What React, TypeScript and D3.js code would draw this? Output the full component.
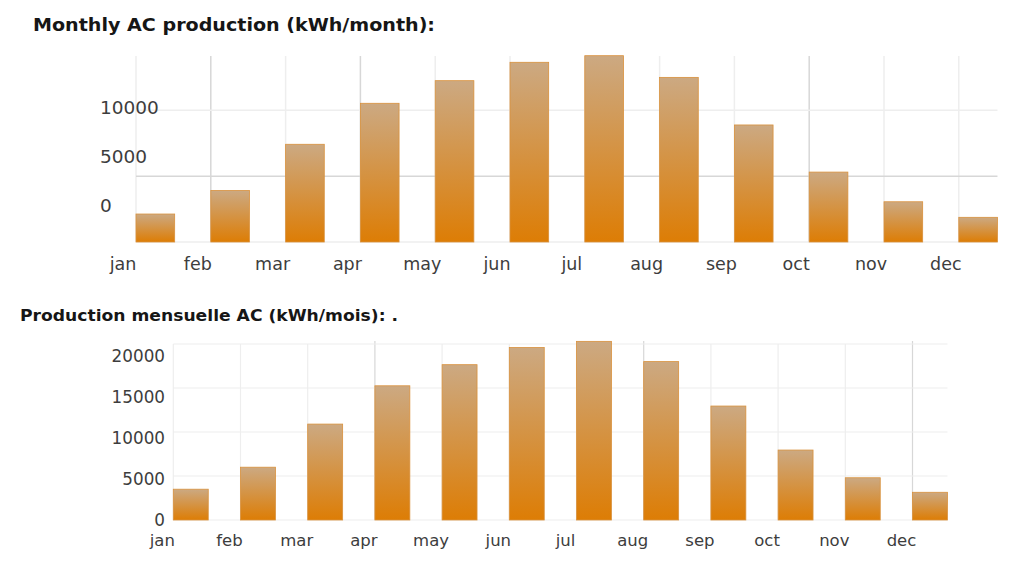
import React from "react";
import * as d3 from "d3";

const months = ["jan", "feb", "mar", "apr", "may", "jun", "jul", "aug", "sep", "oct", "nov", "dec"];

// kWh per month
const acProduction = [3500, 6000, 10900, 15250, 17650, 19600, 20300, 18000, 12950, 7950, 4800, 3150];

// top chart: labels as printed, gridlines where they sit
const topTickLabels = [0, 5000, 10000];
const topGridValues = [7500, 14500];
const topDarkMonths = ["feb", "apr", "oct"];

// bottom chart
const bottomTicks = [0, 5000, 10000, 15000, 20000];
const bottomDarkMonths = ["apr", "aug", "dec"];

const FONT = "'DejaVu Sans', Verdana, sans-serif";
const LIGHT = "#eeeeee";
const DARK = "#d7d7d7";
const LABEL = "#3d3d3d";

export default function App() {
  // ---- top chart (English) ----
  const top = { left: 136, top: 56, bottom: 242, step: 74.8 };
  const xTop = d3
    .scaleBand<string>()
    .domain(months)
    .range([top.left, top.left + months.length * top.step])
    .padding(0);
  const barWTop = top.step * 0.517;
  const topRight = xTop("dec")! + barWTop;
  const yTop = d3.scaleLinear().domain([0, 20300]).range([top.bottom + 5, 55.7]);
  const yTopLabel = d3.scaleLinear().domain([0, 10000]).range([205, 107]);

  // ---- bottom chart (French) ----
  const bot = { left: 173.3, top: 344, bottom: 520, step: 67.2 };
  const xBot = d3
    .scaleBand<string>()
    .domain(months)
    .range([bot.left, bot.left + months.length * bot.step])
    .padding(0);
  const barWBot = bot.step * 0.52;
  const botRight = xBot("dec")! + barWBot;
  const yBot = d3.scaleLinear().domain([0, 20000]).range([bot.bottom, bot.top]);
  const yBotLabel = d3.scaleLinear().domain([0, 20000]).range([519.5, 356]);

  return (
    <svg
      width={1024}
      height={576}
      style={{ position: "absolute", left: 0, top: 0, background: "#fff" }}
      fontFamily={FONT}
    >
      <defs>
        <linearGradient id="barGrad" x1="0" y1="0" x2="0" y2="1">
          <stop offset="0%" stopColor="#cca982" />
          <stop offset="100%" stopColor="#dd7d05" />
        </linearGradient>
      </defs>

      {/* top chart */}
      <text
        x={33}
        y={31}
        fontSize={17}
        fontWeight="bold"
        fill="#161616"
        textLength={402}
        lengthAdjust="spacingAndGlyphs"
      >
        Monthly AC production (kWh/month):
      </text>
      {months.map((m) => (
        <line
          key={"tv" + m}
          x1={xTop(m)}
          x2={xTop(m)}
          y1={top.top}
          y2={top.bottom}
          stroke={topDarkMonths.includes(m) ? DARK : LIGHT}
          strokeWidth={1.5}
        />
      ))}
      {topGridValues.map((v, i) => (
        <line
          key={"th" + v}
          x1={top.left}
          x2={topRight}
          y1={yTop(v)}
          y2={yTop(v)}
          stroke={i === 0 ? DARK : LIGHT}
          strokeWidth={1.5}
        />
      ))}
      <line x1={top.left} x2={topRight} y1={top.bottom} y2={top.bottom} stroke={LIGHT} strokeWidth={1.5} />
      {months.map((m, i) => (
        <rect
          key={"tb" + m}
          x={xTop(m)}
          y={yTop(acProduction[i])}
          width={barWTop}
          height={top.bottom - yTop(acProduction[i])}
          fill="url(#barGrad)"
          stroke="#d9913c"
          strokeWidth={0.8}
        />
      ))}
      {topTickLabels.map((v) => (
        <text key={"tl" + v} x={100} y={yTopLabel(v)} dy="0.36em" fontSize={18.5} fill={LABEL}>
          {v}
        </text>
      ))}
      {months.map((m) => (
        <text key={"tx" + m} x={xTop(m)! - 13} y={270} textAnchor="middle" fontSize={17.5} fill={LABEL}>
          {m}
        </text>
      ))}

      {/* bottom chart */}
      <text
        x={20}
        y={321}
        fontSize={15}
        fontWeight="bold"
        fill="#161616"
        textLength={378}
        lengthAdjust="spacingAndGlyphs"
      >
        Production mensuelle AC (kWh/mois): .
      </text>
      {months.map((m) => {
        const dark = bottomDarkMonths.includes(m);
        return (
          <line
            key={"bv" + m}
            x1={xBot(m)}
            x2={xBot(m)}
            y1={dark ? bot.top - 3 : bot.top}
            y2={bot.bottom}
            stroke={dark ? DARK : LIGHT}
            strokeWidth={1.2}
          />
        );
      })}
      {bottomTicks.map((v) => (
        <line
          key={"bh" + v}
          x1={bot.left}
          x2={botRight}
          y1={yBot(v)}
          y2={yBot(v)}
          stroke={LIGHT}
          strokeWidth={1.2}
        />
      ))}
      {months.map((m, i) => (
        <rect
          key={"bb" + m}
          x={xBot(m)}
          y={yBot(acProduction[i])}
          width={barWBot}
          height={bot.bottom - yBot(acProduction[i])}
          fill="url(#barGrad)"
          stroke="#d9913c"
          strokeWidth={0.8}
        />
      ))}
      {bottomTicks.map((v) => (
        <text key={"bl" + v} x={165} y={yBotLabel(v)} dy="0.36em" textAnchor="end" fontSize={16.8} fill={LABEL}>
          {v}
        </text>
      ))}
      {months.map((m) => (
        <text key={"bx" + m} x={xBot(m)! - 11} y={546} textAnchor="middle" fontSize={16.5} fill={LABEL}>
          {m}
        </text>
      ))}
    </svg>
  );
}
